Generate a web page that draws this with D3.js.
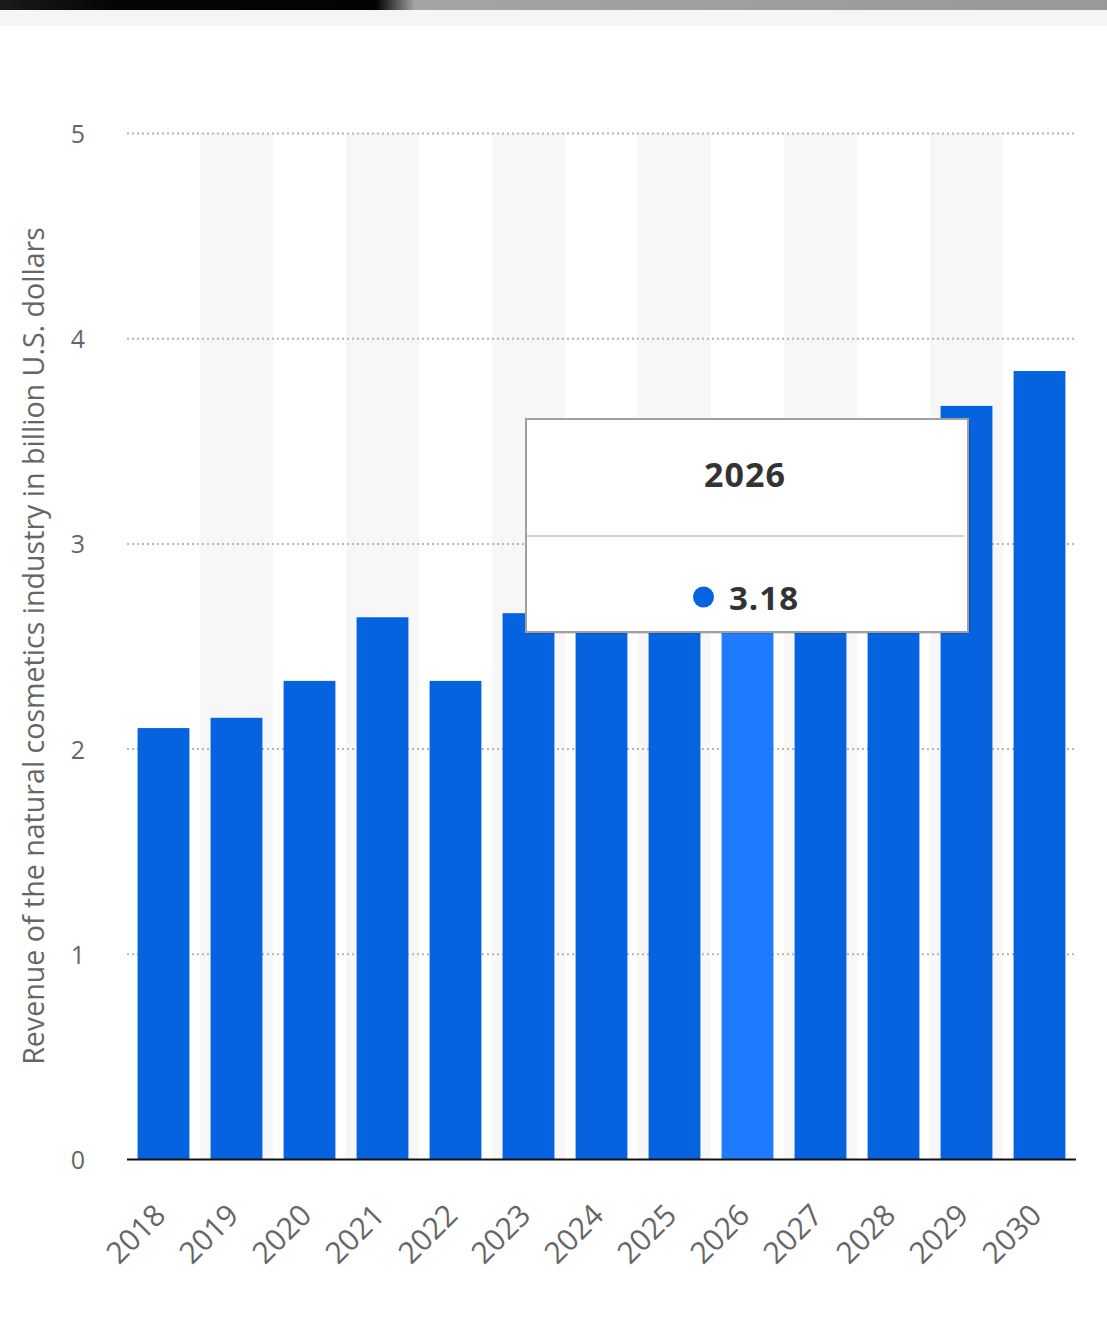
<!DOCTYPE html>
<html>
<head>
<meta charset="utf-8">
<script src="https://cdn.jsdelivr.net/npm/d3@7"></script>
<style>
  body { margin: 0; background: #fff; }
  svg { display: block; font-family: "Open Sans", "DejaVu Sans", sans-serif; }
</style>
</head>
<body>
<script>
// chart data
var years = ["2018", "2019", "2020", "2021", "2022", "2023", "2024", "2025", "2026", "2027", "2028", "2029", "2030"];
var revenue = [2.1, 2.15, 2.33, 2.64, 2.33, 2.66, 2.81, 2.99, 3.18, 3.34, 3.51, 3.67, 3.84];
var yTicks = [0, 1, 2, 3, 4, 5];
var activeYear = "2026";
var axisTitle = "Revenue of the natural cosmetics industry in billion U.S. dollars";

var width = 1107, height = 1336;
var svg = d3.select("body").append("svg")
    .attr("width", width)
    .attr("height", height);

// top screenshot strip
var grad = svg.append("defs").append("linearGradient").attr("id", "topgrad");
grad.append("stop").attr("offset", "0%").attr("stop-color", "#1a1a1a");
grad.append("stop").attr("offset", "10%").attr("stop-color", "#050505");
grad.append("stop").attr("offset", "34%").attr("stop-color", "#030303");
grad.append("stop").attr("offset", "37.5%").attr("stop-color", "#a4a4a4");
grad.append("stop").attr("offset", "100%").attr("stop-color", "#989898");
svg.append("rect").attr("x", 0).attr("y", 0).attr("width", width).attr("height", 10).attr("fill", "url(#topgrad)");
svg.append("rect").attr("x", 0).attr("y", 10).attr("width", width).attr("height", 16).attr("fill", "#f4f5f8");

var x0 = 127, x1 = 1076, yTop = 133, yBottom = 1159;

var x = d3.scaleBand().domain(years).range([x0, x1]).padding(0);
var y = d3.scaleLinear().domain([0, 5]).range([yBottom, yTop]);
var barW = x.bandwidth() * 0.71;

// alternating column shading
svg.append("g").selectAll("rect")
    .data(years.filter(function (d, i) { return i % 2 === 1; }))
    .enter().append("rect")
    .attr("x", function (d) { return x(d); })
    .attr("y", yTop)
    .attr("width", x.bandwidth())
    .attr("height", yBottom - yTop)
    .attr("fill", "#f7f7f8");

// gridlines
svg.append("g").selectAll("line")
    .data(yTicks.filter(function (d) { return d > 0; }))
    .enter().append("line")
    .attr("x1", x0).attr("x2", x1)
    .attr("y1", function (d) { return y(d) + 0.5; })
    .attr("y2", function (d) { return y(d) + 0.5; })
    .attr("stroke", "#b5b5b5")
    .attr("stroke-width", 2)
    .attr("stroke-dasharray", "2,3");

// y tick labels
svg.append("g").selectAll("text")
    .data(yTicks)
    .enter().append("text")
    .attr("x", 85)
    .attr("y", function (d) { return y(d) + 10; })
    .attr("text-anchor", "end")
    .attr("font-size", 25)
    .attr("fill", "#666")
    .text(function (d) { return d; });

// axis title
svg.append("text")
    .attr("transform", "translate(44," + 646 + ") rotate(-90)")
    .attr("text-anchor", "middle")
    .attr("font-size", 28.6)
    .attr("fill", "#666")
    .text(axisTitle);

// bars
svg.append("g").selectAll("rect")
    .data(years)
    .enter().append("rect")
    .attr("x", function (d) { return x(d) + (x.bandwidth() - barW) / 2; })
    .attr("y", function (d, i) { return y(revenue[i]); })
    .attr("width", barW)
    .attr("height", function (d, i) { return yBottom - y(revenue[i]); })
    .attr("fill", function (d) { return d === activeYear ? "#1f7bff" : "#0563e0"; });

// baseline
svg.append("line")
    .attr("x1", x0).attr("x2", x1)
    .attr("y1", yBottom + 0.5).attr("y2", yBottom + 0.5)
    .attr("stroke", "#111")
    .attr("stroke-width", 2);

// x tick labels
svg.append("g").selectAll("text")
    .data(years)
    .enter().append("text")
    .attr("transform", function (d) {
        return "translate(" + (x(d) + x.bandwidth() / 2 + 4) + "," + 1217 + ") rotate(-45)";
    })
    .attr("text-anchor", "end")
    .attr("font-size", 30)
    .attr("fill", "#666")
    .text(function (d) { return d; });

// tooltip
var ai = years.indexOf(activeYear);
var tip = svg.append("g");
tip.append("rect")
    .attr("x", 528).attr("y", 421).attr("width", 442).attr("height", 213)
    .attr("fill", "#000").attr("opacity", 0.12);
tip.append("rect")
    .attr("x", 526).attr("y", 419).attr("width", 442).attr("height", 213)
    .attr("fill", "#fff")
    .attr("stroke", "#a0a0a0")
    .attr("stroke-width", 2);
tip.append("text")
    .attr("x", 745).attr("y", 487)
    .attr("text-anchor", "middle")
    .attr("font-size", 34)
    .attr("font-weight", "bold")
    .attr("letter-spacing", 1)
    .attr("fill", "#333")
    .text(activeYear);
tip.append("line")
    .attr("x1", 527).attr("x2", 964)
    .attr("y1", 536).attr("y2", 536)
    .attr("stroke", "#cfcfcf")
    .attr("stroke-width", 2);
tip.append("circle")
    .attr("cx", 703.5).attr("cy", 597).attr("r", 10.5)
    .attr("fill", "#0563e0");
tip.append("text")
    .attr("x", 729).attr("y", 610)
    .attr("font-size", 33)
    .attr("font-weight", "bold")
    .attr("letter-spacing", 1)
    .attr("fill", "#333")
    .text(d3.format(".2f")(revenue[ai]));
</script>
</body>
</html>
